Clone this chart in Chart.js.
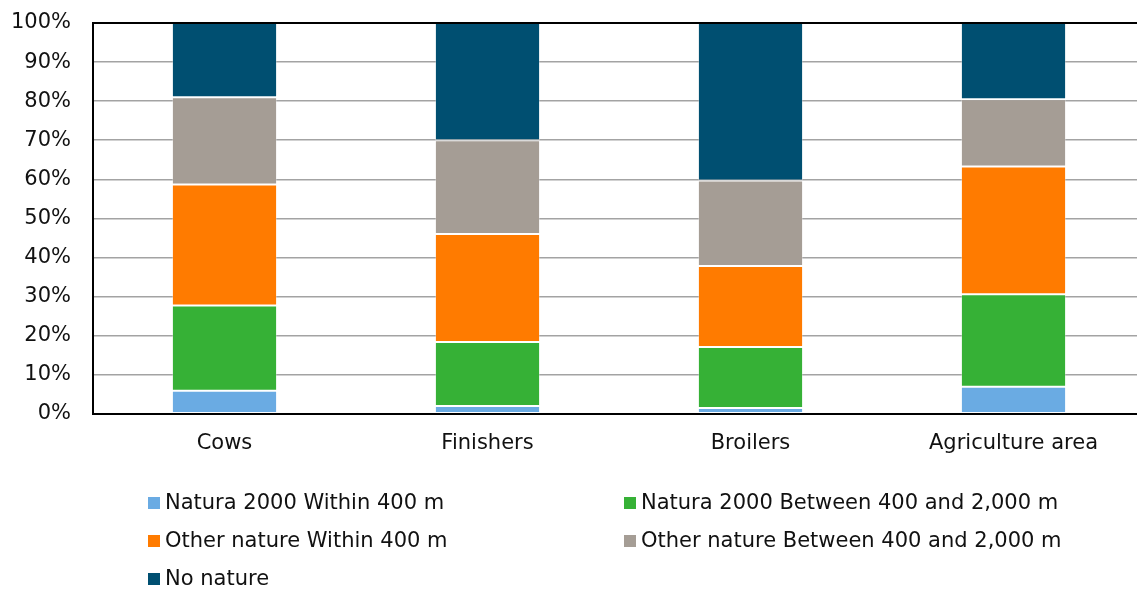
<!DOCTYPE html>
<html>
<head>
<meta charset="utf-8">
<script src="https://cdn.jsdelivr.net/npm/chart.js@4"></script>
<style>
  body { margin: 0; overflow: hidden; background: #fff; font-family: "DejaVu Sans", Verdana, sans-serif; }
  #wrap { position: relative; width: 1145px; height: 490px; }
  #legend { position: absolute; left: 0; top: 0; width: 1137px; height: 589px; pointer-events: none; }
  .item { position: absolute; font-size: 21px; color: #111; white-space: nowrap; line-height: 24px; }
  .item span.box { display: inline-block; width: 12px; height: 12px; margin-right: 5px; vertical-align: 0px; }
</style>
</head>
<body>
<div id="wrap"><canvas id="chart"></canvas></div>
<div id="legend"></div>
<script>
// categories and series (percent of total per category)
const categories = ["Cows", "Finishers", "Broilers", "Agriculture area"];
const seriesNames = [
    "Natura 2000 Within 400 m",
    "Natura 2000 Between 400 and 2,000 m",
    "Other nature Within 400 m",
    "Other nature Between 400 and 2,000 m",
    "No nature"
];
const natura400 = [5.9, 2.0, 1.5, 6.9];
const natura2000 = [21.8, 16.4, 15.6, 23.7];
const other400 = [31.0, 27.6, 20.7, 32.7];
const other2000 = [22.3, 24.0, 21.9, 17.2];
const noNature = [19.0, 30.0, 40.3, 19.5];
const yTicks = [0, 10, 20, 30, 40, 50, 60, 70, 80, 90, 100];

const colors = ["#6aabe3", "#36b136", "#ff7b00", "#a59d95", "#004f71"];
const values = [natura400, natura2000, other400, other2000, noNature];

// draws the top frame line of the plot area
const frame = {
    id: 'frame',
    afterDraw(chart) {
        const a = chart.chartArea, c = chart.ctx;
        c.save();
        c.strokeStyle = '#000';
        c.lineWidth = 2;
        c.beginPath();
        c.moveTo(a.left, a.top);
        c.lineTo(a.right, a.top);
        c.stroke();
        c.restore();
    }
};

const ctx = document.getElementById("chart").getContext("2d");
const chart = new Chart(ctx, {
    type: "bar",
    data: {
        labels: categories,
        datasets: seriesNames.map((name, i) => ({
            label: name,
            data: values[i],
            backgroundColor: colors[i],
            borderColor: "rgba(255,255,255,0.3)",
            borderWidth: 1,
            borderSkipped: false,
            barPercentage: 0.4,
            categoryPercentage: 1
        }))
    },
    options: {
        responsive: true,
        maintainAspectRatio: false,
        animation: false,
        layout: { padding: { top: 0, bottom: 17, left: 10, right: 0 } },
        plugins: { legend: { display: false }, tooltip: { enabled: false } },
        scales: {
            x: {
                stacked: true,
                grid: { display: false, drawTicks: false },
                border: { color: '#000', width: 2 },
                ticks: { color: '#111', padding: 17, font: { family: "DejaVu Sans", size: 21 } }
            },
            y: {
                stacked: true,
                min: 0,
                max: 100,
                afterBuildTicks: axis => { axis.ticks = yTicks.map(v => ({ value: v })); },
                afterFit: axis => { axis.width = 83; axis.paddingTop = 23; axis.paddingBottom = 0; },
                grid: { color: '#a3a3a3', lineWidth: 1.5, drawTicks: false },
                border: { color: '#000', width: 2 },
                ticks: {
                    color: '#111',
                    padding: 22,
                    font: { family: "DejaVu Sans", size: 21 },
                    callback: v => v + '%'
                }
            }
        }
    },
    plugins: [frame]
});

// legend in two columns under the chart
const legendPos = [[148, 502], [624, 502], [148, 540], [624, 540], [148, 578]];
const legend = document.getElementById('legend');
seriesNames.forEach((name, i) => {
    const d = document.createElement('div');
    d.className = 'item';
    d.style.left = legendPos[i][0] + 'px';
    d.style.top = (legendPos[i][1] - 12) + 'px';
    d.innerHTML = '<span class="box" style="background:' + colors[i] + '"></span>' + name;
    legend.appendChild(d);
});
</script>
</body>
</html>
